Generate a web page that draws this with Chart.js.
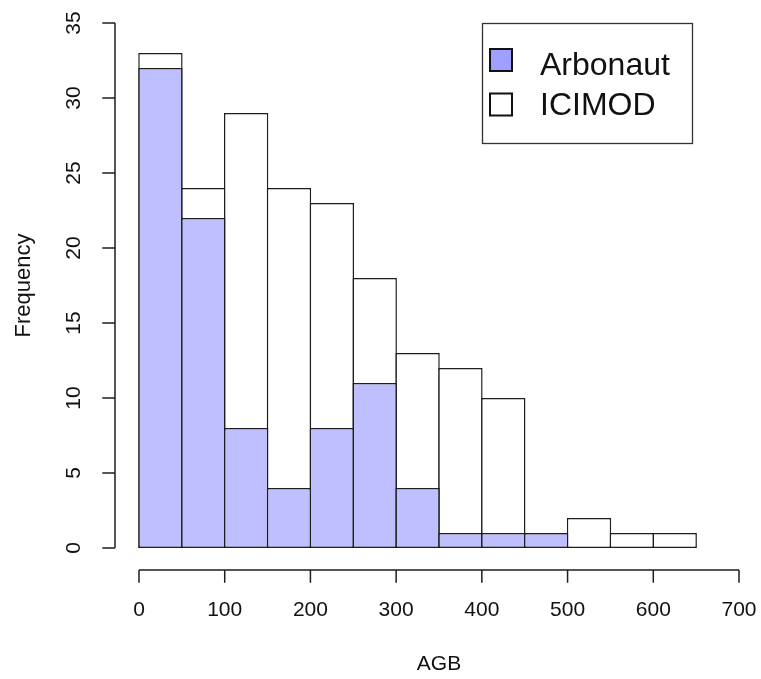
<!DOCTYPE html>
<html>
<head>
<meta charset="utf-8">
<script src="https://cdn.jsdelivr.net/npm/chart.js@4"></script>
<style>
  body { margin: 0; background: #fff; }
  #wrap { width: 761px; height: 679px; }
</style>
</head>
<body>
<div id="wrap"><canvas id="histChart"></canvas></div>
<script>
// histogram bins (AGB), width 50
const binStarts = [0, 50, 100, 150, 200, 250, 300, 350, 400, 450, 500, 550, 600];
const binWidth = 50;
const icimodCounts = [33, 24, 29, 24, 23, 18, 13, 12, 10, 1, 2, 1, 1];
const arbonautCounts = [32, 22, 8, 4, 8, 11, 4, 1, 1, 1];
const xTicks = [0, 100, 200, 300, 400, 500, 600, 700];
const yTicks = [0, 5, 10, 15, 20, 25, 30, 35];

const FONT = '"Liberation Sans", Arial, sans-serif';
const LINE = '#1e1e1e';
const BW = 1.5;

const toPoints = counts => counts.map((c, i) => ({ x: binStarts[i] + binWidth / 2, y: c }));

// draws R-style axes, labels and the boxed legend
const rAxes = {
  id: 'rAxes',
  afterDraw(chart) {
    const c = chart.ctx;
    const xs = chart.scales.x, ys = chart.scales.y;
    const area = chart.chartArea;
    const tick = 12.7;
    c.save();
    c.strokeStyle = LINE;
    c.lineWidth = 1.5;
    c.fillStyle = '#111';
    c.font = '21px ' + FONT;

    // x axis
    const y0 = area.bottom;
    c.beginPath();
    c.moveTo(xs.getPixelForValue(xTicks[0]), y0);
    c.lineTo(xs.getPixelForValue(xTicks[xTicks.length - 1]), y0);
    xTicks.forEach(v => {
      const px = xs.getPixelForValue(v);
      c.moveTo(px, y0);
      c.lineTo(px, y0 + tick);
    });
    c.stroke();
    c.textAlign = 'center';
    c.textBaseline = 'middle';
    xTicks.forEach(v => c.fillText(String(v), xs.getPixelForValue(v), 610));

    // y axis
    const x0 = area.left;
    c.beginPath();
    c.moveTo(x0, ys.getPixelForValue(yTicks[0]));
    c.lineTo(x0, ys.getPixelForValue(yTicks[yTicks.length - 1]));
    yTicks.forEach(v => {
      const py = ys.getPixelForValue(v);
      c.moveTo(x0, py);
      c.lineTo(x0 - tick, py);
    });
    c.stroke();
    yTicks.forEach(v => {
      c.save();
      c.translate(74, ys.getPixelForValue(v));
      c.rotate(-Math.PI / 2);
      c.fillText(String(v), 0, 0);
      c.restore();
    });

    // axis titles
    c.fillText('AGB', (xs.getPixelForValue(0) + xs.getPixelForValue(700)) / 2, 664);
    c.save();
    c.font = '22px ' + FONT;
    c.translate(24, (ys.getPixelForValue(0) + ys.getPixelForValue(35)) / 2);
    c.rotate(-Math.PI / 2);
    c.fillText('Frequency', 0, 0);
    c.restore();

    // legend
    c.lineWidth = 1.3;
    c.strokeStyle = '#333';
    c.strokeRect(482.5, 23.5, 210, 120);
    const items = [
      { label: chart.data.datasets[0].label, fill: '#9f9fff', top: 49, base: 75 },
      { label: chart.data.datasets[1].label, fill: '#ffffff', top: 93.5, base: 115 }
    ];
    c.font = '32px ' + FONT;
    c.textAlign = 'left';
    c.textBaseline = 'alphabetic';
    items.forEach(it => {
      c.fillStyle = it.fill;
      c.fillRect(490, it.top, 22, 22);
      c.lineWidth = 2;
      c.strokeStyle = '#111';
      c.strokeRect(490, it.top, 22, 22);
      c.fillStyle = '#111';
      c.fillText(it.label, 540, it.base);
    });
    c.restore();
  }
};

const ctx = document.getElementById('histChart');
const histChart = new Chart(ctx, {
  type: 'bar',
  data: {
    datasets: [{
      label: 'Arbonaut',
      data: toPoints(arbonautCounts),
      backgroundColor: 'rgb(191, 191, 255)',
      borderColor: LINE,
      borderWidth: BW,
      borderSkipped: false
    }, {
      label: 'ICIMOD',
      data: toPoints(icimodCounts),
      backgroundColor: '#ffffff',
      borderColor: LINE,
      borderWidth: BW,
      borderSkipped: false
    }]
  },
  options: {
    responsive: true,
    maintainAspectRatio: false,
    animation: false,
    layout: { padding: { left: 115, right: 22, top: 8, bottom: 109 } },
    datasets: {
      bar: {
        grouped: false,
        categoryPercentage: 1,
        barPercentage: (42.857 + BW) / 42.857
      }
    },
    scales: {
      x: {
        type: 'linear',
        display: false,
        offset: false,
        min: -28,
        max: 700,
        afterBuildTicks: s => { s.ticks = xTicks.map(v => ({ value: v })); }
      },
      y: {
        type: 'linear',
        display: false,
        min: -1.467,
        max: 36,
        afterBuildTicks: s => { s.ticks = yTicks.map(v => ({ value: v })); }
      }
    },
    plugins: {
      legend: { display: false },
      tooltip: { enabled: false }
    }
  },
  plugins: [rAxes]
});
</script>
</body>
</html>
